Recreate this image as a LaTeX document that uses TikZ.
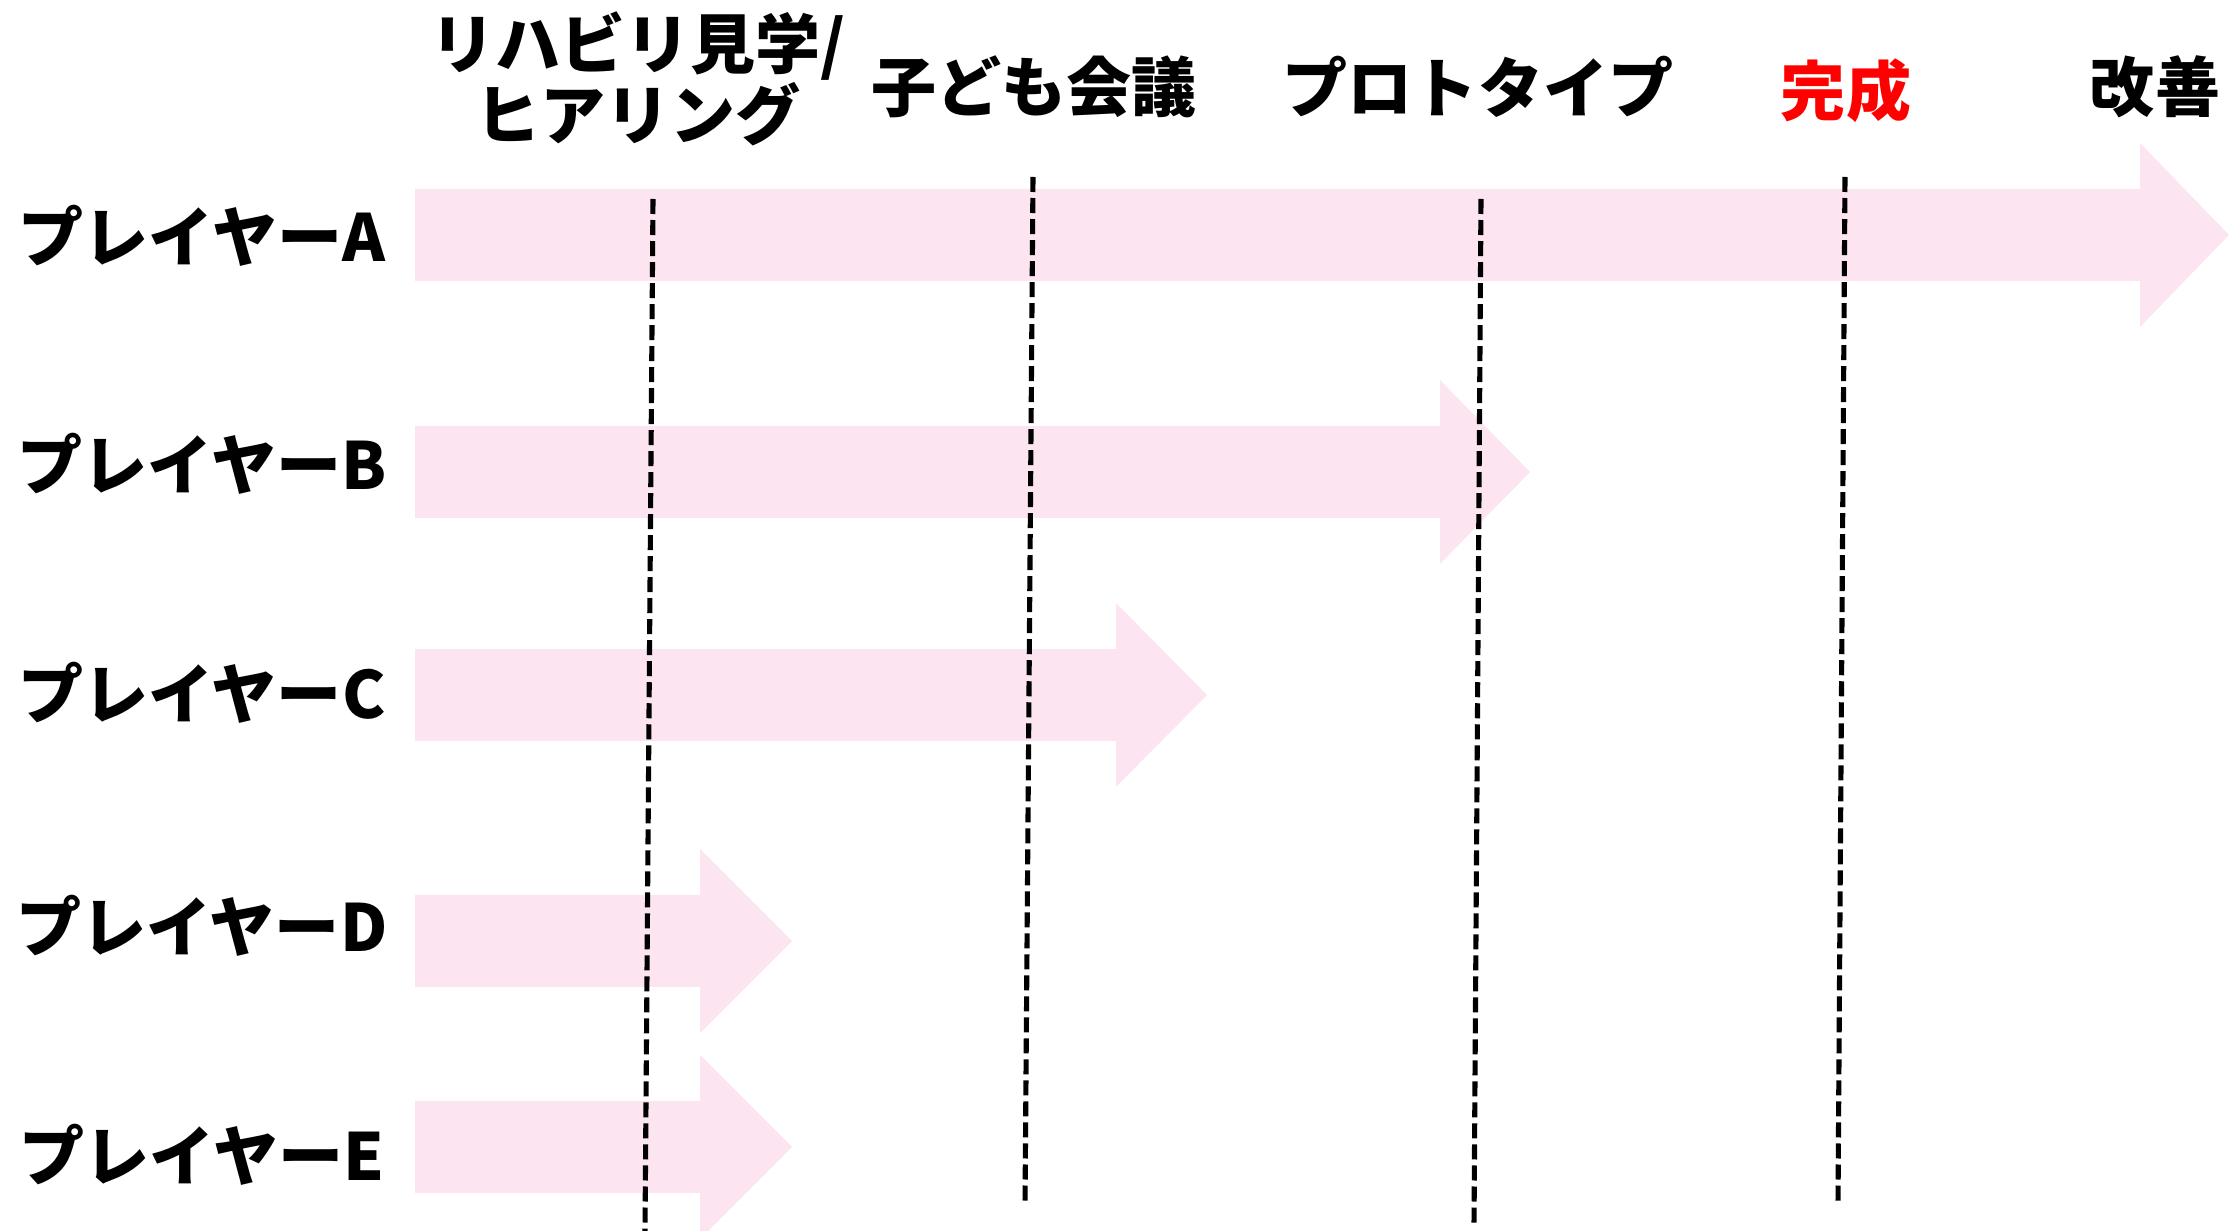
\documentclass[tikz,border=0pt]{standalone}
\usepackage{fontspec}
\setmainfont{Noto Sans CJK JP}
\definecolor{barpink}{RGB}{252,228,240}
\definecolor{donered}{RGB}{255,0,0}
\newcommand\tlarrow[3]{%
  \fill[barpink] (415,#1-46) -- (#2,#1-46) -- (#2,#1-92) -- (#3,#1) -- (#2,#1+92) -- (#2,#1+46) -- (415,#1+46) -- cycle;}
\begin{document}
\begin{tikzpicture}[x=0.01cm,y=-0.01cm,
  lbl/.style={inner sep=0pt,font=\fontsize{18.5pt}{20.2pt}\selectfont\bfseries,align=center},
  phase/.style={black,line width=1.45pt,dash pattern=on 0.15cm off 0.06cm}]
\useasboundingbox (0,0) rectangle (2229,1231);
\clip (0,0) rectangle (2229,1231);
% arrows
\tlarrow{235}{2140}{2229}
\tlarrow{472}{1440}{1530}
\tlarrow{695}{1116}{1207}
\tlarrow{941}{700}{792}
\tlarrow{1147}{700}{792}
% row labels
\node[lbl] (pa) at (202,236) {プレイヤーA};
\node[lbl] (pb) at (202,464) {プレイヤーB};
\node[lbl] (pc) at (202,693) {プレイヤーC};
\node[lbl] (pd) at (202,926) {プレイヤーD};
\node[lbl] (pe) at (202,1155) {プレイヤーE};
% headers
\node[lbl] (h1) at (638,79) {リハビリ見学/\\ヒアリング};
\node[lbl] (h2) at (1034,87) {子ども会議};
\node[lbl] (h3) at (1478,87) {プロトタイプ};
\node[lbl,text=donered] (h4) at (1846,91) {完成};
\node[lbl] (h5) at (2155,87) {改善};
% phase lines
\coordinate (t1) at (653,199); \coordinate (b1) at (645,1231);
\coordinate (t2) at (1033,177); \coordinate (b2) at (1025,1205);
\coordinate (t3) at (1481,199); \coordinate (b3) at (1474,1226);
\coordinate (t4) at (1845,177); \coordinate (b4) at (1838,1205);
\draw[phase] (t1) -- (b1);
\draw[phase] (t2) -- (b2);
\draw[phase] (t3) -- (b3);
\draw[phase] (t4) -- (b4);
\end{tikzpicture}
\end{document}
